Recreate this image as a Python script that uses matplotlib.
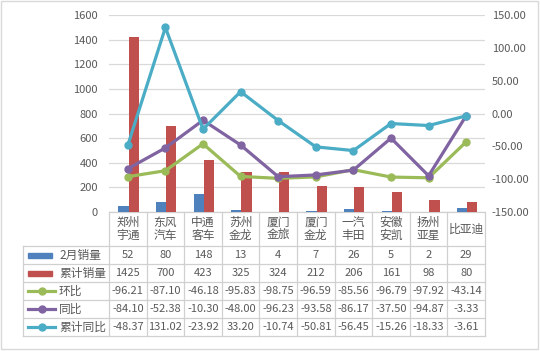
import numpy as np
import matplotlib
matplotlib.use('Agg')
import matplotlib.pyplot as plt
from matplotlib.patches import Rectangle
from matplotlib.lines import Line2D

plt.rcParams['font.family'] = ['Noto Sans CJK SC', 'DejaVu Sans']

# data
categories = ['郑州\n宇通', '东风\n汽车', '中通\n客车', '苏州\n金龙', '厦门\n金旅',
              '厦门\n金龙', '一汽\n丰田', '安徽\n安凯', '扬州\n亚星', '比亚迪']
feb_sales = [52, 80, 148, 13, 4, 7, 26, 5, 2, 29]
cum_sales = [1425, 700, 423, 325, 324, 212, 206, 161, 98, 80]
mom = [-96.21, -87.10, -46.18, -95.83, -98.75, -96.59, -85.56, -96.79, -97.92, -43.14]
yoy = [-84.10, -52.38, -10.30, -48.00, -96.23, -93.58, -86.17, -37.50, -94.87, -3.33]
cum_yoy = [-48.37, 131.02, -23.92, 33.20, -10.74, -50.81, -56.45, -15.26, -18.33, -3.61]

BLUE, RED = '#4f81bd', '#c0504d'
GREEN, PURPLE, CYAN = '#9bbb59', '#8064a2', '#4bacc6'
GRID = '#d9d9d9'
TXT = '#595959'

W, H = 540, 351
fig = plt.figure(figsize=(W / 100, H / 100), dpi=100)

# plot area in pixel coords
px0, px1, py0, py1 = 109, 485, 15, 212

# background/overlay axes in pixel coordinates (table + border)
bg = fig.add_axes([0, 0, 1, 1])
bg.set_xlim(0, W)
bg.set_ylim(H, 0)
bg.axis('off')
bg.add_patch(Rectangle((1, 1), W - 3, H - 3, fill=False, ec='#d9d9d9', lw=1))

ax = fig.add_axes([px0 / W, 1 - py1 / H, (px1 - px0) / W, (py1 - py0) / H])
ax.patch.set_alpha(0)
n = len(categories)
x = np.arange(n)
bw = 0.27
ax.bar(x - bw / 2 + 0.02, feb_sales, bw, color=BLUE, zorder=3)
ax.bar(x + bw / 2 + 0.02, cum_sales, bw, color=RED, zorder=3)
ax.set_xlim(-0.5, n - 0.5)
ax.set_ylim(0, 1600)
ax.set_yticks(range(0, 1601, 200))
ax.set_xticks([])
for s in ax.spines.values():
    s.set_visible(False)
ax.grid(axis='y', color=GRID, lw=0.9, zorder=0)
ax.tick_params(axis='y', length=0, pad=8, labelsize=8, labelcolor=TXT)

ax2 = ax.twinx()
for s in ax2.spines.values():
    s.set_visible(False)
ax2.set_ylim(-150, 150)
ax2.set_yticks(range(-150, 151, 50))
ax2.set_yticklabels([f'{v:.2f}' for v in range(-150, 151, 50)])
ax2.tick_params(axis='y', length=0, pad=5, labelsize=8, labelcolor=TXT)
line_kw = dict(lw=2.3, marker='o', ms=5, zorder=4, clip_on=False)
ax2.plot(x, mom, color=GREEN, **line_kw)
ax2.plot(x, yoy, color=PURPLE, **line_kw)
ax2.plot(x, cum_yoy, color=CYAN, **line_kw)

# data table
col_w = (px1 - px0) / n
row_edges = [212, 246, 264, 282, 300, 318, 336]
left = 23
lc = '#d0d0d0'
# horizontal lines
bg.plot([px0, px1], [row_edges[0]] * 2, color=lc, lw=0.9)
for yy in row_edges[1:]:
    bg.plot([left, px1], [yy, yy], color=lc, lw=0.9)
# vertical lines
for i in range(n + 1):
    xx = px0 + i * col_w
    bg.plot([xx, xx], [row_edges[0], row_edges[-1]], color=lc, lw=0.9)
bg.plot([left, left], [row_edges[1], row_edges[-1]], color=lc, lw=0.9)

for i, c in enumerate(categories):
    bg.text(px0 + (i + 0.5) * col_w, (row_edges[0] + row_edges[1]) / 2, c,
            ha='center', va='center', fontsize=8.5, color=TXT, linespacing=1.05)

row_names = ['2月销量', '累计销量', '环比', '同比', '累计同比']
row_vals = [[str(v) for v in feb_sales], [str(v) for v in cum_sales],
            [f'{v:.2f}' for v in mom], [f'{v:.2f}' for v in yoy],
            [f'{v:.2f}' for v in cum_yoy]]
row_colors = [BLUE, RED, GREEN, PURPLE, CYAN]
for r in range(5):
    yc = (row_edges[r + 1] + row_edges[r + 2]) / 2
    if r < 2:
        bg.add_patch(Rectangle((28, yc - 2.5), 24, 5, color=row_colors[r]))
    else:
        bg.add_line(Line2D([28, 55], [yc, yc], color=row_colors[r], lw=2.3))
        bg.plot([41.5], [yc], 'o', color=row_colors[r], ms=5)
    bg.text(59, yc, row_names[r], ha='left', va='center', fontsize=8.5, color=TXT)
    for i, v in enumerate(row_vals[r]):
        bg.text(px0 + (i + 0.5) * col_w, yc, v, ha='center', va='center',
                fontsize=8, color=TXT)

fig.savefig('out.png', dpi=100)
